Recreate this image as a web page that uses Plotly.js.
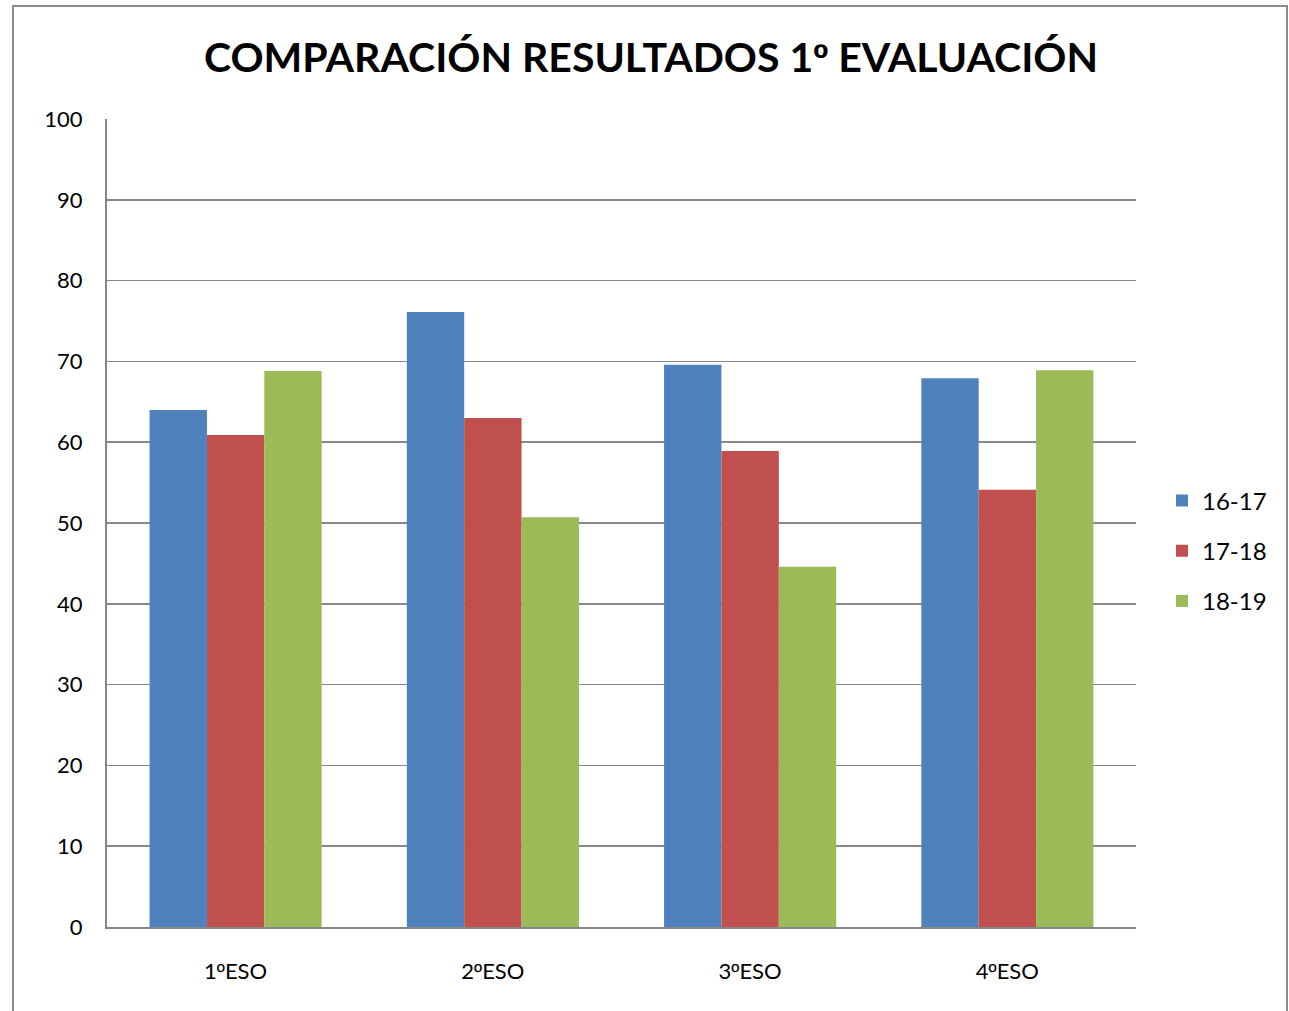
<!DOCTYPE html>
<html>
<head>
<meta charset="utf-8">
<script src="https://cdn.plot.ly/plotly-3.0.1.min.js"></script>
<style>html,body{margin:0;padding:0;background:#fff;overflow:hidden;}#chart{width:1289px;height:1011px;}</style>
</head>
<body>
<div id="chart"></div>
<script>
const categories = ["1ºESO", "2ºESO", "3ºESO", "4ºESO"];
const seriesNames = ["16-17", "17-18", "18-19"];
const values1617 = [64.0, 76.1, 69.6, 67.9];
const values1718 = [60.9, 63.0, 58.9, 54.1];
const values1819 = [68.8, 50.7, 44.6, 68.9];
const colors = ["#4F81BD", "#C0504D", "#9BBB59"];
const yTicks = [0, 10, 20, 30, 40, 50, 60, 70, 80, 90, 100];
const titleText = "COMPARACIÓN RESULTADOS 1º EVALUACIÓN";

// render the ordinal sign with a font that draws it underlined (like Calibri)
const ord = s => s.replace(/º/g, '<span style="font-family:\'Liberation Sans\'">º</span>');

const allValues = [values1617, values1718, values1819];
const traces = allValues.map((v, i) => ({
  type: "bar",
  x: categories,
  y: v,
  name: seriesNames[i],
  legendgroup: "g" + i,
  marker: {color: colors[i], line: {width: 0}},
  hoverinfo: "x+y+name"
}));

const W = 1289, H = 1011;
const mL = 107, mR = 153, mT = 119, mB = 84;
const pw = W - mL - mR, ph = H - mT - mB;
const px = x => (x - mL) / pw;
const py = y => (H - mB - y) / ph;
const FONT = "Lato, 'Open Sans', sans-serif";

const layout = {
  width: W, height: H,
  margin: {l: mL, r: mR, t: mT, b: mB, pad: 0, autoexpand: false},
  paper_bgcolor: "#ffffff",
  plot_bgcolor: "#ffffff",
  font: {family: FONT, color: "#000000"},
  title: {
    text: "<b>" + ord(titleText) + "</b>",
    font: {size: 41, family: FONT, color: "#000"},
    x: 651 / W, xref: "container", xanchor: "center",
    y: 1 - 58 / H, yref: "container", yanchor: "middle"
  },
  barmode: "group",
  bargap: 0.331,
  bargroupgap: 0,
  xaxis: {
    tickvals: categories,
    ticktext: categories.map(ord),
    showgrid: false,
    showline: true, linecolor: "#868686", linewidth: 2,
    ticks: "outside", ticklen: 0, tickcolor: "rgba(0,0,0,0)",
    ticklabelstandoff: 24,
    tickfont: {size: 22, family: FONT, color: "#000"},
    fixedrange: true
  },
  yaxis: {
    range: [0, 100],
    tickvals: yTicks,
    ticktext: yTicks.map(String),
    showgrid: true, gridcolor: "#888888", gridwidth: 1.5,
    showline: true, linecolor: "#868686", linewidth: 2,
    zeroline: false,
    ticks: "outside", ticklen: 0, tickcolor: "rgba(0,0,0,0)",
    ticklabelstandoff: 18,
    tickfont: {size: 22, family: FONT, color: "#000"},
    fixedrange: true
  },
  showlegend: true,
  legend: {
    x: px(1162), xanchor: "left",
    y: py(551), yanchor: "middle",
    traceorder: "grouped",
    tracegroupgap: 16,
    font: {size: 24, family: FONT, color: "#000"},
    itemwidth: 30,
    bgcolor: "rgba(0,0,0,0)"
  },
  shapes: [{
    type: "rect", xref: "paper", yref: "paper",
    x0: px(13), x1: px(1287), y0: py(1015), y1: py(6),
    line: {color: "#8c8c8c", width: 2}, fillcolor: "rgba(0,0,0,0)",
    layer: "below"
  }]
};

Plotly.newPlot("chart", traces, layout, {displayModeBar: false, staticPlot: true});
</script>
</body>
</html>
